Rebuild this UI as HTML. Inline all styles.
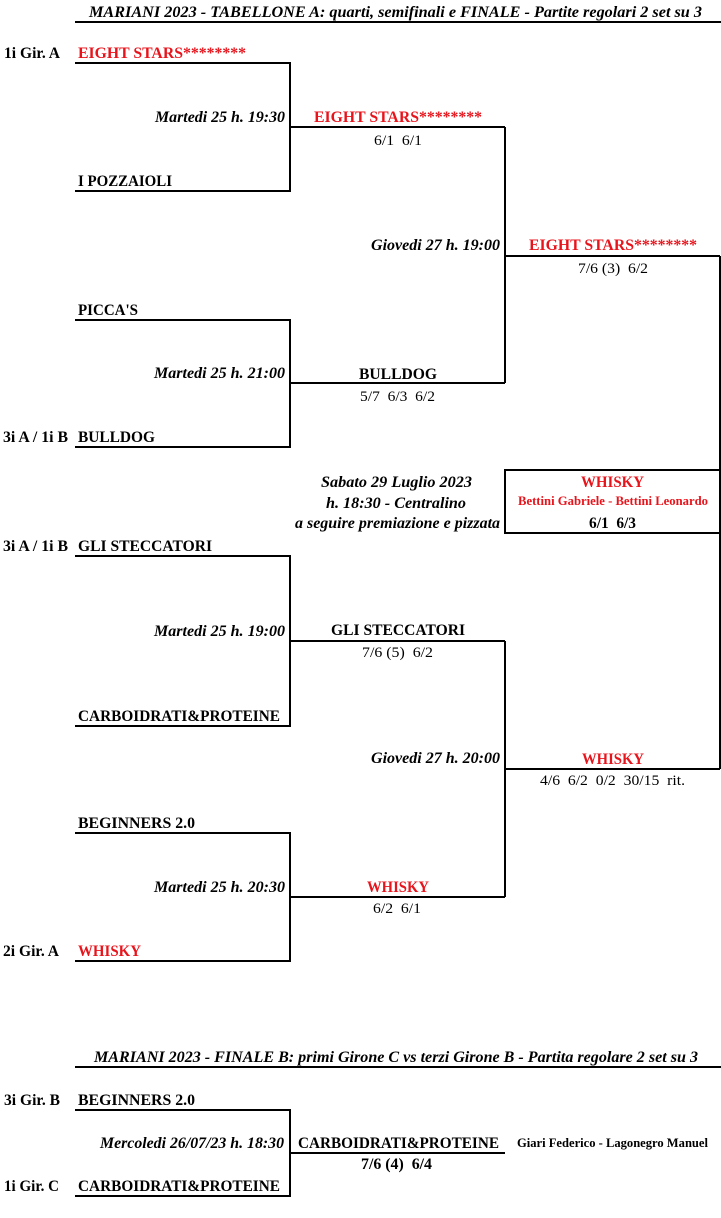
<!DOCTYPE html>
<html><head><meta charset="utf-8"><style>
html,body{margin:0;padding:0;background:#fff;}
svg{display:block;}
text{font-family:"Liberation Serif","Times New Roman",serif;}
.b{font-weight:bold;font-size:16px;fill:#000;}
.r{fill:#e8141c;}
.i{font-weight:bold;font-style:italic;font-size:15.5px;fill:#000;}
.s{font-size:15px;fill:#000;}
.sm{font-weight:bold;font-size:13px;}
</style></head><body>
<svg width="721" height="1218" viewBox="0 0 721 1218" xmlns="http://www.w3.org/2000/svg" font-family="'Liberation Serif', 'Times New Roman', serif">
<g stroke="#000" stroke-width="2" fill="none">
<path d="M75 22H721"/>
<path d="M75 63H290V191H75M290 127H505"/>
<path d="M75 320H290V447H75M290 383H505"/>
<path d="M505 127V383M505 256H720"/>
<path d="M75 556H290V726H75M290 641H505"/>
<path d="M75 833H290V961H75M290 897H505"/>
<path d="M505 641V897M505 769H720"/>
<path d="M720 256V769"/>
<rect x="505" y="470" width="215" height="63"/>
<path d="M75 1067H721"/>
<path d="M75 1110H290V1196H75M290 1153H505"/>
</g>

<text class="i" x="89" y="17" textLength="613" lengthAdjust="spacingAndGlyphs">MARIANI 2023 - TABELLONE A: quarti, semifinali e FINALE - Partite regolari 2 set su 3</text>

<text class="b" x="4" y="58" textLength="56" lengthAdjust="spacingAndGlyphs">1i Gir. A</text>
<text class="b r" x="78" y="58" textLength="168" lengthAdjust="spacingAndGlyphs">EIGHT STARS********</text>
<text class="b" x="78" y="186" textLength="94" lengthAdjust="spacingAndGlyphs">I POZZAIOLI</text>
<text class="i" x="155" y="122" textLength="130" lengthAdjust="spacingAndGlyphs">Martedi 25 h. 19:30</text>
<text class="b r" x="314" y="122" textLength="168" lengthAdjust="spacingAndGlyphs">EIGHT STARS********</text>
<text class="s" x="374" y="145" textLength="48" lengthAdjust="spacingAndGlyphs">6/1&#160;&#160;6/1</text>

<text class="b" x="78" y="315" textLength="60" lengthAdjust="spacingAndGlyphs">PICCA'S</text>
<text class="i" x="154" y="378" textLength="131" lengthAdjust="spacingAndGlyphs">Martedi 25 h. 21:00</text>
<text class="b" x="3" y="442" textLength="65" lengthAdjust="spacingAndGlyphs">3i A / 1i B</text>
<text class="b" x="78" y="442" textLength="77" lengthAdjust="spacingAndGlyphs">BULLDOG</text>
<text class="b" x="359" y="379" textLength="78" lengthAdjust="spacingAndGlyphs">BULLDOG</text>
<text class="s" x="360" y="401" textLength="75" lengthAdjust="spacingAndGlyphs">5/7&#160;&#160;6/3&#160;&#160;6/2</text>

<text class="i" x="371" y="250" textLength="129" lengthAdjust="spacingAndGlyphs">Giovedi 27 h. 19:00</text>
<text class="b r" x="529" y="250" textLength="168" lengthAdjust="spacingAndGlyphs">EIGHT STARS********</text>
<text class="s" x="578" y="273" textLength="70" lengthAdjust="spacingAndGlyphs">7/6 (3)&#160;&#160;6/2</text>

<text class="i" x="321" y="487" textLength="151" lengthAdjust="spacingAndGlyphs">Sabato 29 Luglio 2023</text>
<text class="i" x="326" y="508" textLength="140" lengthAdjust="spacingAndGlyphs">h. 18:30 - Centralino</text>
<text class="i" x="295" y="528" textLength="205" lengthAdjust="spacingAndGlyphs">a seguire premiazione e pizzata</text>
<text class="b r" x="581" y="487" textLength="63" lengthAdjust="spacingAndGlyphs">WHISKY</text>
<text class="sm r" x="518" y="505" textLength="190" lengthAdjust="spacingAndGlyphs">Bettini Gabriele - Bettini Leonardo</text>
<text class="b" x="589" y="528" textLength="47" lengthAdjust="spacingAndGlyphs">6/1&#160;&#160;6/3</text>

<text class="b" x="3" y="551" textLength="65" lengthAdjust="spacingAndGlyphs">3i A / 1i B</text>
<text class="b" x="78" y="551" textLength="134" lengthAdjust="spacingAndGlyphs">GLI STECCATORI</text>
<text class="i" x="154" y="636" textLength="131" lengthAdjust="spacingAndGlyphs">Martedi 25 h. 19:00</text>
<text class="b" x="78" y="721" textLength="202" lengthAdjust="spacingAndGlyphs">CARBOIDRATI&amp;PROTEINE</text>
<text class="b" x="331" y="635" textLength="134" lengthAdjust="spacingAndGlyphs">GLI STECCATORI</text>
<text class="s" x="362" y="657" textLength="71" lengthAdjust="spacingAndGlyphs">7/6 (5)&#160;&#160;6/2</text>

<text class="i" x="371" y="763" textLength="129" lengthAdjust="spacingAndGlyphs">Giovedi 27 h. 20:00</text>
<text class="b r" x="582" y="764" textLength="62" lengthAdjust="spacingAndGlyphs">WHISKY</text>
<text class="s" x="540" y="785" textLength="145" lengthAdjust="spacingAndGlyphs">4/6&#160;&#160;6/2&#160;&#160;0/2&#160;&#160;30/15&#160;&#160;rit.</text>

<text class="b" x="78" y="828" textLength="117" lengthAdjust="spacingAndGlyphs">BEGINNERS 2.0</text>
<text class="i" x="154" y="892" textLength="131" lengthAdjust="spacingAndGlyphs">Martedi 25 h. 20:30</text>
<text class="b" x="3" y="956" textLength="56" lengthAdjust="spacingAndGlyphs">2i Gir. A</text>
<text class="b r" x="78" y="956" textLength="63" lengthAdjust="spacingAndGlyphs">WHISKY</text>
<text class="b r" x="367" y="892" textLength="62" lengthAdjust="spacingAndGlyphs">WHISKY</text>
<text class="s" x="373" y="913" textLength="48" lengthAdjust="spacingAndGlyphs">6/2&#160;&#160;6/1</text>

<text class="i" x="94" y="1062" textLength="604" lengthAdjust="spacingAndGlyphs">MARIANI 2023 - FINALE B: primi Girone C vs terzi Girone B - Partita regolare 2 set su 3</text>
<text class="b" x="4" y="1105" textLength="56" lengthAdjust="spacingAndGlyphs">3i Gir. B</text>
<text class="b" x="78" y="1105" textLength="117" lengthAdjust="spacingAndGlyphs">BEGINNERS 2.0</text>
<text class="i" x="100" y="1148" textLength="184" lengthAdjust="spacingAndGlyphs">Mercoledi 26/07/23 h. 18:30</text>
<text class="b" x="298" y="1148" textLength="201" lengthAdjust="spacingAndGlyphs">CARBOIDRATI&amp;PROTEINE</text>
<text class="sm" x="517" y="1147" textLength="191" lengthAdjust="spacingAndGlyphs">Giari Federico - Lagonegro Manuel</text>
<text class="b" x="361" y="1169" textLength="71" lengthAdjust="spacingAndGlyphs">7/6 (4)&#160;&#160;6/4</text>
<text class="b" x="4" y="1191" textLength="55" lengthAdjust="spacingAndGlyphs">1i Gir. C</text>
<text class="b" x="78" y="1191" textLength="202" lengthAdjust="spacingAndGlyphs">CARBOIDRATI&amp;PROTEINE</text>
</svg>
</body></html>
